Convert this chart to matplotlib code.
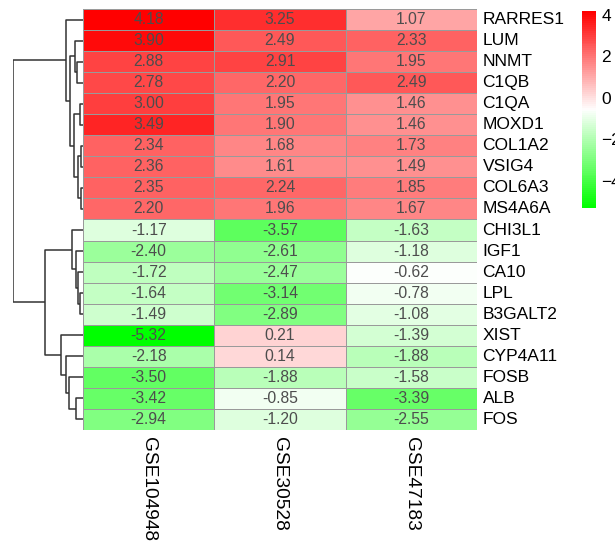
import numpy as np
import matplotlib
matplotlib.use("Agg")
import matplotlib.pyplot as plt
from matplotlib.colors import LinearSegmentedColormap

plt.rcParams["font.family"] = ["Liberation Sans", "DejaVu Sans"]

genes = ["RARRES1", "LUM", "NNMT", "C1QB", "C1QA", "MOXD1", "COL1A2", "VSIG4",
         "COL6A3", "MS4A6A", "CHI3L1", "IGF1", "CA10", "LPL", "B3GALT2", "XIST",
         "CYP4A11", "FOSB", "ALB", "FOS"]
datasets = ["GSE104948", "GSE30528", "GSE47183"]

gse104948 = [4.18, 3.90, 2.88, 2.78, 3.00, 3.49, 2.34, 2.36, 2.35, 2.20,
             -1.17, -2.40, -1.72, -1.64, -1.49, -5.32, -2.18, -3.50, -3.42, -2.94]
gse30528 = [3.25, 2.49, 2.91, 2.20, 1.95, 1.90, 1.68, 1.61, 2.24, 1.96,
            -3.57, -2.61, -2.47, -3.14, -2.89, 0.21, 0.14, -1.88, -0.85, -1.20]
gse47183 = [1.07, 2.33, 1.95, 2.49, 1.46, 1.46, 1.73, 1.49, 1.85, 1.67,
            -1.63, -1.18, -0.62, -0.78, -1.08, -1.39, -1.88, -1.58, -3.39, -2.55]

mat = np.column_stack([gse104948, gse30528, gse47183])
nrow, ncol = mat.shape
vmin, vmax = mat.min(), mat.max()
cmap = LinearSegmentedColormap.from_list("gwr", ["#00FF00", "#FFFFFF", "#FF0000"], N=100)

W, H = 615, 543
fig = plt.figure(figsize=(W / 100, H / 100), dpi=100)


def box(x0, y0, x1, y1):
    # pixel box (top-left origin) -> figure fraction
    return [x0 / W, 1 - y1 / H, (x1 - x0) / W, (y1 - y0) / H]


# heatmap
ax = fig.add_axes(box(83, 9, 477, 430))
ax.pcolormesh(np.arange(ncol + 1) - 0.5, np.arange(nrow + 1) - 0.5, mat,
              cmap=cmap, vmin=vmin, vmax=vmax, edgecolors="#9A9A9A", linewidth=0.7)
ax.set_xlim(-0.5, ncol - 0.5)
ax.set_ylim(nrow - 0.5, -0.5)
for i in range(nrow):
    for j in range(ncol):
        ax.text(j, i, f"{mat[i, j]:.2f}", ha="center", va="center",
                fontsize=11.3, color="#4D4D4D")
ax.set_xticks([])
ax.set_yticks([])
for s in ax.spines.values():
    s.set_visible(False)
for i, g in enumerate(genes):
    ax.annotate(g, xy=(ncol - 0.5, i), xytext=(4, 0), textcoords="offset points",
                ha="left", va="center", fontsize=12.5, color="black",
                annotation_clip=False)
for j, d in enumerate(datasets):
    ax.annotate(d, xy=(j, nrow - 0.5), xytext=(0, -5), textcoords="offset points",
                rotation=270, ha="center", va="top", fontsize=13.8, color="black",
                annotation_clip=False)

# row dendrogram, complete linkage on euclidean distance
D = np.sqrt(((mat[:, None, :] - mat[None, :, :]) ** 2).sum(-1))
pos = {i: (float(i), 0.0) for i in range(nrow)}
dist = {(a, b): D[a, b] for a in range(nrow) for b in range(a + 1, nrow)}
active = list(range(nrow))
segs = []
nid = nrow
while len(active) > 1:
    (a, b), h = min(dist.items(), key=lambda kv: kv[1])
    ya, ha = pos[a]
    yb, hb = pos[b]
    segs.append(([ha, h, h, hb], [ya, ya, yb, yb]))
    pos[nid] = ((ya + yb) / 2, h)
    active.remove(a)
    active.remove(b)
    newd = {}
    for (p, q), v in dist.items():
        if p in (a, b) or q in (a, b):
            continue
        newd[(p, q)] = v
    for k in active:
        dk = max(dist[tuple(sorted((a, k)))], dist[tuple(sorted((b, k)))])
        newd[(k, nid)] = dk
    dist = newd
    active.append(nid)
    nid += 1
root_h = pos[nid - 1][1]

axd = fig.add_axes(box(13, 9, 83, 430))
for xs, ys in segs:
    axd.plot(xs, ys, color="#333333", lw=1.1, solid_capstyle="butt")
axd.set_xlim(root_h, 0)
axd.set_ylim(nrow - 0.5, -0.5)
axd.axis("off")

# colour legend
cax = fig.add_axes(box(582, 11, 596, 208))
sm = plt.cm.ScalarMappable(cmap=cmap, norm=plt.Normalize(vmin, vmax))
cb = fig.colorbar(sm, cax=cax, ticks=[4, 2, 0, -2, -4])
cb.outline.set_visible(False)
cb.ax.tick_params(length=0, labelsize=12.5, pad=4)

fig.savefig("out.png", dpi=100)
